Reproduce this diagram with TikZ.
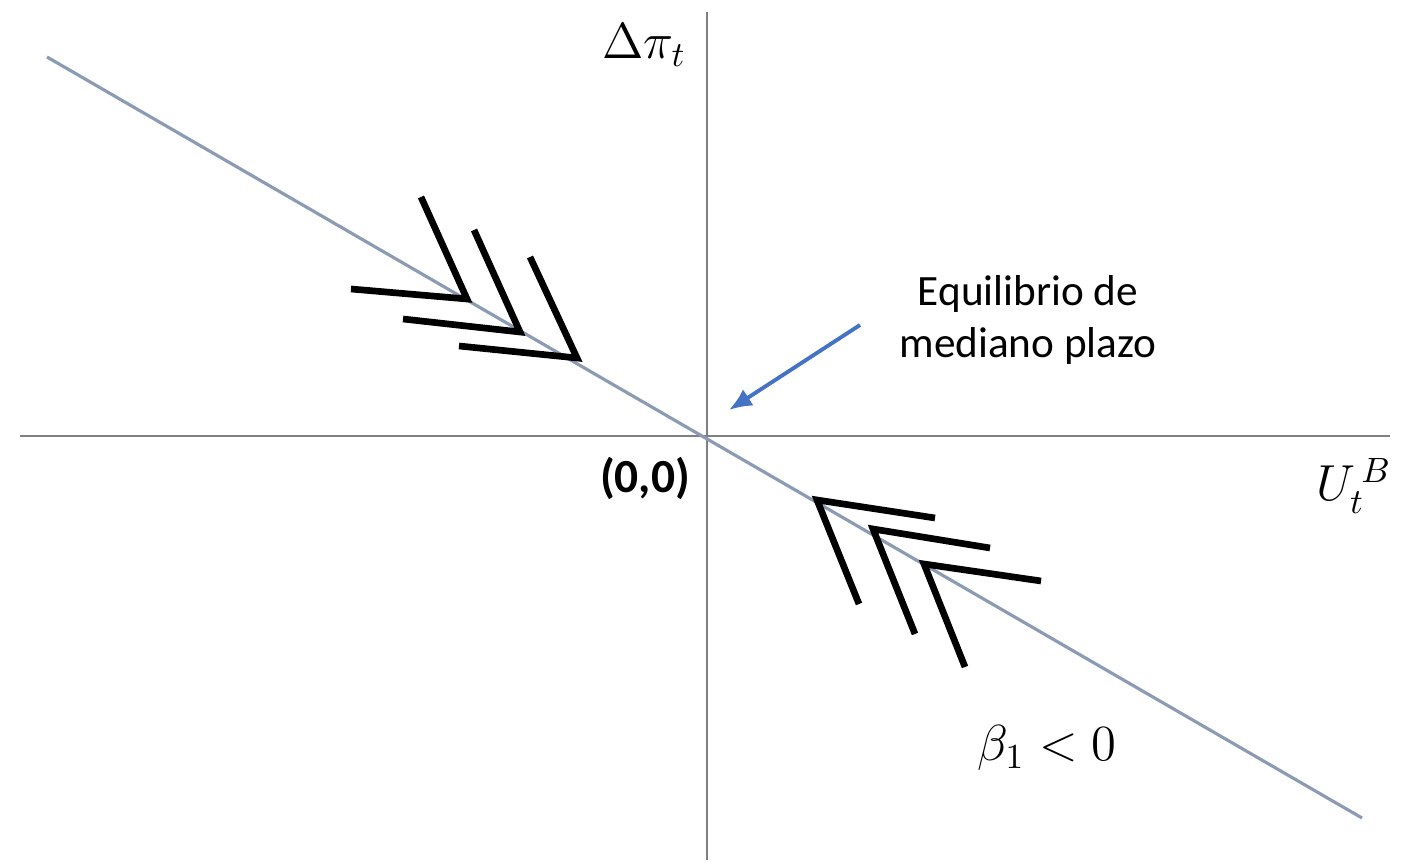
\documentclass[tikz,border=0pt]{standalone}
\usepackage{fontspec}
\setmainfont{Carlito}
\usepackage{amsmath}
\usetikzlibrary{arrows.meta,positioning,calc}
\definecolor{axisgray}{RGB}{128,128,128}
\definecolor{curve}{RGB}{140,155,180}
\definecolor{pointer}{RGB}{68,114,196}

\begin{document}
\begin{tikzpicture}[x=0.01cm,y=-0.01cm,
  ax/.style={draw=axisgray,line width=0.65pt},
  pc/.style={draw=curve,line width=0.9pt},
  chev/.style={draw=black,line width=1.9pt},
  ptr/.style={draw=pointer,line width=1.1pt,-{Latex[length=6.5pt,width=5.5pt]}},
  txt/.style={font=\fontsize{12.3}{15}\selectfont,align=center,inner sep=0pt},
  mth/.style={font=\fontsize{14}{16}\selectfont,inner sep=0pt}
]
\useasboundingbox (0,0) rectangle (1409,865);

%% ── Axes ─────────────────────────────────────────────────────────────────────
\coordinate (o)  at (707,436);
\coordinate (xl) at (20,436);
\coordinate (xr) at (1390,436);
\coordinate (yt) at (707,12);
\coordinate (yb) at (707,860);
\draw[ax] (xl) -- (xr);
\draw[ax] (yt) -- (yb);

%% ── Phillips line through origin ─────────────────────────────────────────────
\coordinate (pa) at (47,57);
\coordinate (pb) at (1362,818);
\draw[pc] (pa) -- (pb);

%% ── Labels ───────────────────────────────────────────────────────────────────
\node[mth] (dpi)  at (644,45)   {$\Delta\pi_t$};
\node[mth] (ub)   at (1354,486) {$U_t^{\,B}$};
\node[txt,font=\fontsize{13.5}{16}\selectfont\bfseries] (orig) at (645,478) {(0,0)};
\node[txt] (eq)   at (1028,320) {Equilibrio de\\mediano plazo};
\node[mth] (beta) at (1047,748) {$\beta_1 < 0$};

%% ── Pointer to the equilibrium ───────────────────────────────────────────────
\coordinate (ptail) at (860,325);
\draw[ptr] (ptail) -- ($(o)+(22,-26)$);

%% ── Chevrons, upper left (moving down the line) ──────────────────────────────
\draw[chev] (421,197) -- (467,299) -- (351,289);
\draw[chev] (474,230) -- (520,332) -- (403,319);
\draw[chev] (530,257) -- (577,358) -- (459,346);

%% ── Chevrons, lower right (moving up the line) ───────────────────────────────
\draw[chev] (935,518) -- (817,500) -- (859,604);
\draw[chev] (990,548) -- (873,529) -- (915,634);
\draw[chev] (1041,581) -- (924,564) -- (965,667);
\end{tikzpicture}
\end{document}
